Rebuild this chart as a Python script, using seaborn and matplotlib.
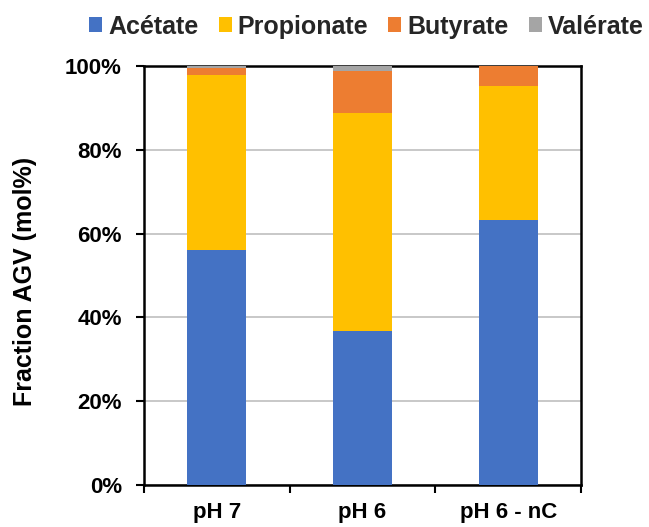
import numpy as np
import pandas as pd
import matplotlib
matplotlib.use("Agg")
import matplotlib.pyplot as plt
import seaborn as sns
from matplotlib.patches import Patch

conditions = ["pH 7", "pH 6", "pH 6 - nC"]
acetate = [56.1, 36.8, 63.2]
propionate = [41.8, 52.0, 32.1]
butyrate = [1.6, 10.0, 4.7]
valerate = [0.5, 1.2, 0.0]

series_names = ["Acétate", "Propionate", "Butyrate", "Valérate"]
series_values = [acetate, propionate, butyrate, valerate]
colors = ["#4472C4", "#FFC000", "#ED7D31", "#A5A5A5"]

sns.set_theme(style="white")
plt.rcParams["font.family"] = ["Liberation Sans", "DejaVu Sans"]
plt.rcParams["font.weight"] = "bold"

fig = plt.figure(figsize=(6.49, 5.27), dpi=100)
ax = fig.add_axes([144 / 649, 1 - 485 / 527, (581 - 144) / 649, (485 - 66) / 527])

# cumulative totals, drawn from the tallest stack down so each layer shows
cum = np.cumsum(np.array(series_values), axis=0)
for i in range(len(series_names) - 1, -1, -1):
    df = pd.DataFrame({"cond": conditions, "val": cum[i]})
    sns.barplot(data=df, x="cond", y="val", color=colors[i], width=0.405,
                saturation=1, ax=ax, zorder=3, linewidth=0)

ax.set_ylim(0, 100)
ax.set_xlim(-0.5, 2.5)
ax.set_yticks(np.arange(0, 101, 20))
ax.set_yticklabels([f"{v}%" for v in range(0, 101, 20)], fontsize=16, fontweight="bold")
ax.yaxis.grid(True, color="#BFBFBF", linewidth=1.2, zorder=0)
ax.set_axisbelow(True)

# category ticks sit on the boundaries between groups
ax.set_xticks([-0.5, 0.5, 1.5, 2.5], minor=False)
ax.set_xticklabels([])
ax.set_xticks([0, 1, 2], minor=True)
ax.set_xticklabels(conditions, minor=True, fontsize=16, fontweight="bold")
ax.tick_params(axis="x", which="minor", length=0, pad=12)
ax.tick_params(axis="x", which="major", length=6, width=1.5, color="black", direction="out", bottom=True)
ax.tick_params(axis="y", length=6, width=1.5, color="black", direction="out", left=True, pad=10)
for lbl in ax.get_yticklabels():
    lbl.set_color("black")
for lbl in ax.get_xticklabels(minor=True):
    lbl.set_color("black")

ax.set_xlabel("")
ax.set_ylabel("Fraction AGV (mol%)", fontsize=18, fontweight="bold", color="black")
ax.yaxis.set_label_coords((37 - 144) / 437, 0.487)

for side in ["left", "right", "top", "bottom"]:
    ax.spines[side].set_visible(True)
    ax.spines[side].set_color("black")
    ax.spines[side].set_linewidth(1.8)

handles = [Patch(facecolor=c, edgecolor="none") for c in colors]
fig.legend(handles, series_names, loc="upper center", bbox_to_anchor=(0.5647, 1.015),
           ncol=4, frameon=False, prop={"size": 18, "weight": "bold"},
           handlelength=0.52, handleheight=0.52, handletextpad=0.24, columnspacing=0.8)

fig.savefig("out.png", dpi=100)
